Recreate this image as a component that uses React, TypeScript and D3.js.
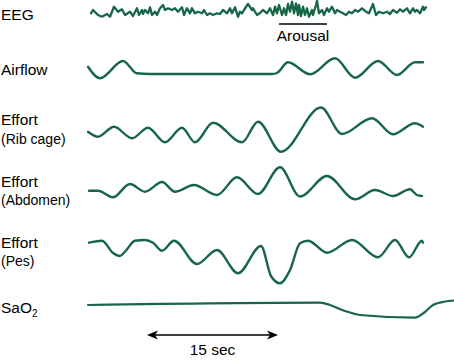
import * as d3 from "d3";
import React from "react";

// samples (x) and deflection (up = positive)
const eeg: [number, number][] = [
  [3, -3.3], [5, 0], [10, -5], [14, -6.7], [19, -4], [22, -6.7], [26, 3.3], [30, -1.7], [34, 0.7], [37, -5],
  [42, -1.7], [45, -6], [49, 1.7], [51, -5], [54, 0], [55, -4], [57, 0], [60, -3.3], [62, 2.7], [64, -5],
  [67, -1.7], [69, -5], [72, 1.7], [75, 5], [77, 0], [80, 1.7], [84, 0], [87, 1.7], [90, -1.7], [94, 2.7],
  [96, -5], [99, 1.7], [102, -3.3], [104, 1.7], [107, -3.3], [110, -1.7], [114, -3.3], [116, 0], [119, -5], [122, -3.3],
  [125, -5], [129, -3.3], [132, -4], [135, 0], [139, -3.3], [142, 1.7], [144, -3.3], [147, 2.7], [150, -6.7], [152, -1.7],
  [154, -3.3], [156, 0], [160, 6], [164, 0], [165, 1.7], [169, -5], [172, -3], [175, 0], [179, -3.3], [182, 1.7],
  [185, -5], [187, 3.3], [189, -3.3], [191, 5], [194, -5], [196, 1.7], [198, -5], [200, 6], [202, -1.7], [204, 8.3],
  [206, -3.3], [208, 6.7], [210, -5], [211, 5], [213, -6], [215, 3.3], [217, -5], [219, 1.7], [221, -6.7], [224, 0],
  [225, -5], [228, 5], [229, 9.3], [231, -3.3], [234, 0], [236, -5], [239, 1.7], [241, -1.7], [244, 3.3], [247, -3.3],
  [249, 0], [252, -1.7], [255, -3.3], [258, -5], [261, -1.7], [264, -3.3], [267, 0], [270, -1.7], [274, 1.7], [278, -1.7],
  [281, -3.3], [285, 6], [288, -5], [291, -1.7], [295, -3.3], [299, -1.7], [302, -4], [305, 0], [309, -2.7], [312, 0.7],
  [315, -1.7], [319, 1.7], [322, -3.3], [325, 1.7], [327, -1.7], [329, 0], [332, -3.3], [335, 3.3], [336, 0], [338, 2.7],
];

const airflow: [number, number][] = [
  [0, 3.3], [12, -8.3], [35, 9], [49, -3.3], [62, -4], [184, -4], [189, -3], [200, 7.7], [222, -4.3],
  [247, 11.7], [267, -7.7], [290, 9], [309, -5], [327, 7.7], [335, 7.7],
];

const ribCage: [number, number][] = [
  [0, -1.7], [10, -6.7], [26, 3.3], [44, -8.3], [60, 2.3], [77, -12.3], [94, 2.3], [107, -12.3], [125, 7.3],
  [154, -12.3], [170, 8.3], [193, -21.7], [233, 22.5], [254, -4], [284, 11.7], [305, -4.3], [327, 6.7], [335, 3.3],
];

const abdomen: [number, number][] = [
  [1, -2.7], [10, -2.7], [25, -9.3], [42, 4], [57, -3.7], [74, 6], [87, -3.7], [106, 3], [129, -7], [149, 10.7],
  [170, -6], [192, 20.7], [212, -8.5], [239, 12], [267, -11.3], [287, -2], [305, -8], [322, -1.3], [329, -7], [334, -8],
];

const pes: [number, number][] = [
  [1, 12.3], [14, 14.3], [25, 2], [32, -1], [37, 3.3], [47, 14.3], [57, 15], [65, 12.3], [74, 4.3], [86, 14.3],
  [109, -9], [129, 5], [150, -18.3], [173, 9], [183, -21], [192, -28.3], [202, -15], [212, 11.7], [220, 14.3],
  [239, 2.3], [264, 15], [290, -2.3], [307, 15], [321, -2.3], [334, 14.3], [335, 12.3],
];

const sao2: [number, number][] = [
  [0, 3], [232, 5.3], [242, 3], [257, -3], [272, -7], [327, -9.7], [337, -4], [345, 3], [357, 6.5], [366, 7.5],
];

const arousalSpan = [191, 239];
const timeBar = { start: 59, end: 190, label: "15 sec" };

const GREEN = "#186648";
const FONT = "Liberation Sans, Arial, Helvetica, sans-serif";

const rows = [
  { key: "eeg", data: eeg, center: 10, curve: d3.curveLinear, width: 2.3 },
  { key: "airflow", data: airflow, center: 70, curve: d3.curveMonotoneX, width: 2.4 },
  { key: "rib", data: ribCage, center: 130, curve: d3.curveMonotoneX, width: 2.4 },
  { key: "abd", data: abdomen, center: 188, curve: d3.curveMonotoneX, width: 2.4 },
  { key: "pes", data: pes, center: 255, curve: d3.curveMonotoneX, width: 2.4 },
  { key: "sao2", data: sao2, center: 308, curve: d3.curveMonotoneX, width: 2.2 },
];

export default function App() {
  const x = d3.scaleLinear().domain([0, 340]).range([88, 428]);

  const paths = rows.map((r) => {
    const y = d3.scaleLinear().domain([-30, 30]).range([r.center + 30, r.center - 30]);
    const line = d3
      .line<[number, number]>()
      .x((d) => x(d[0]))
      .y((d) => y(d[1]))
      .curve(r.curve);
    return (
      <path
        key={r.key}
        d={line(r.data) || ""}
        fill="none"
        stroke={GREEN}
        strokeWidth={r.width}
        strokeLinejoin="round"
        strokeLinecap="round"
      />
    );
  });

  const ax1 = x(timeBar.start);
  const ax2 = x(timeBar.end);
  const ay = 335;

  return (
    <svg
      width={454}
      height={360}
      style={{ position: "absolute", left: 0, top: 0, background: "#fff" }}
      fontFamily={FONT}
    >
      <g fontSize={15.5} fill="#000">
        <text x={1} y={20}>EEG</text>
        <text x={1} y={75}>Airflow</text>
        <text x={1} y={125}>Effort</text>
        <text x={1} y={144} fontSize={14}>(Rib cage)</text>
        <text x={1} y={187}>Effort</text>
        <text x={1} y={205} fontSize={14}>(Abdomen)</text>
        <text x={1} y={248}>Effort</text>
        <text x={1} y={266} fontSize={14}>(Pes)</text>
        <text x={1} y={313}>
          SaO<tspan fontSize={10} dy={3.5}>2</tspan>
        </text>
      </g>

      {paths}

      <line x1={x(arousalSpan[0])} x2={x(arousalSpan[1])} y1={24} y2={24} stroke="#000" strokeWidth={1.5} />
      <text x={(x(arousalSpan[0]) + x(arousalSpan[1])) / 2} y={40.5} fontSize={15.5} textAnchor="middle">
        Arousal
      </text>

      <line x1={ax1 + 6} x2={ax2 - 6} y1={ay} y2={ay} stroke="#000" strokeWidth={1.4} />
      <path d={`M${ax1},${ay} L${ax1 + 11},${ay - 4.5} L${ax1 + 8},${ay} L${ax1 + 11},${ay + 4.5} Z`} fill="#000" />
      <path d={`M${ax2},${ay} L${ax2 - 11},${ay - 4.5} L${ax2 - 8},${ay} L${ax2 - 11},${ay + 4.5} Z`} fill="#000" />
      <text x={(ax1 + ax2) / 2} y={355} fontSize={15.5} textAnchor="middle">
        {timeBar.label}
      </text>
    </svg>
  );
}
